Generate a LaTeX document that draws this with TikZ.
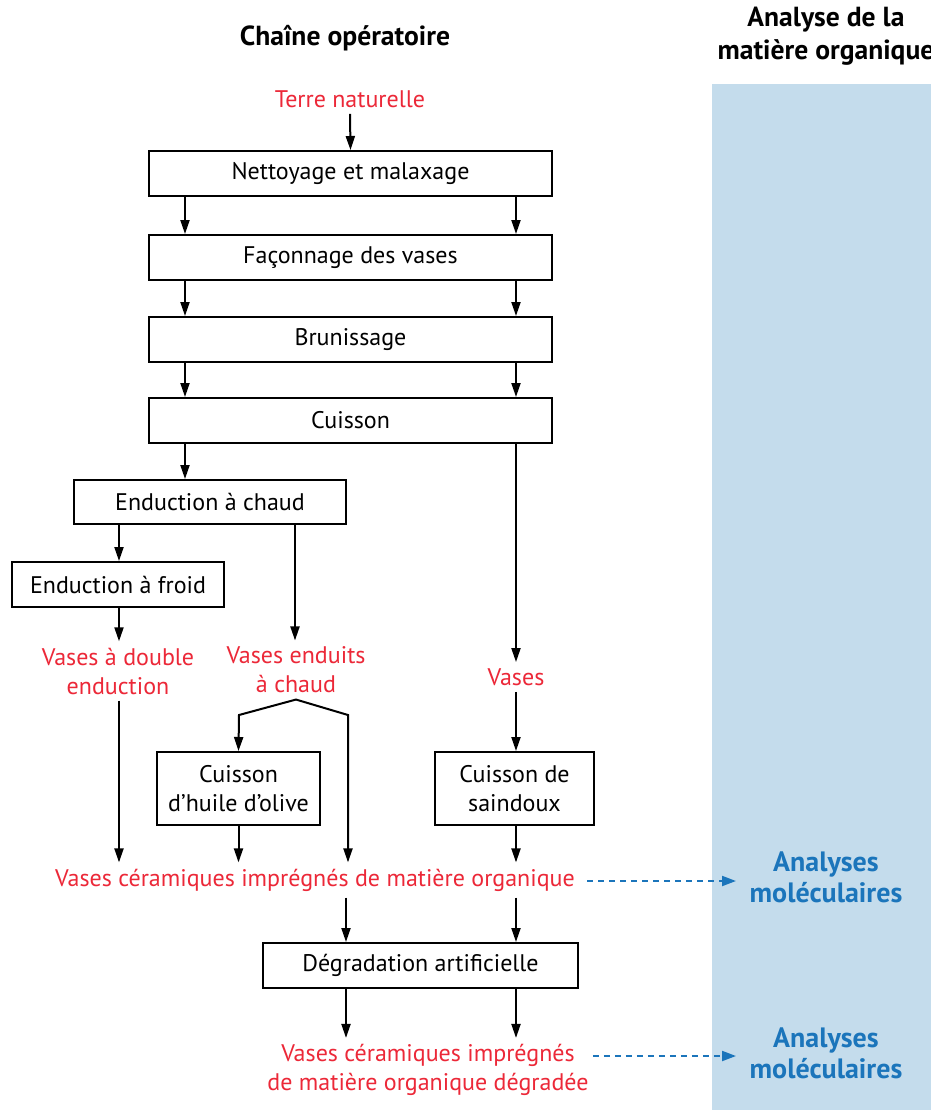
\documentclass[tikz,border=0pt]{standalone}
\usepackage{fontspec}
\setmainfont{PT Sans}
\usetikzlibrary{arrows.meta}
\definecolor{redt}{RGB}{236,40,56}
\definecolor{bluet}{RGB}{27,117,187}
\definecolor{panel}{RGB}{196,220,236}
\tikzset{
 box/.style={draw, line width=1pt, inner sep=0pt, font=\fontsize{12}{14.5}\selectfont, align=center},
 rtxt/.style={text=redt, inner sep=3pt, font=\fontsize{12}{14.5}\selectfont, align=center},
 btxt/.style={text=bluet, inner sep=3pt, font=\bfseries\fontsize{14}{15.5}\selectfont, align=center},
 htxt/.style={inner sep=0pt, font=\bfseries\fontsize{13.8}{16.2}\selectfont, align=center},
 arr/.style={line width=1pt, -{Triangle[length=7pt,width=4.5pt]}},
 darr/.style={draw=bluet, line width=1pt, dash pattern=on 3pt off 2.5pt, -{Triangle[length=7pt,width=5pt]}}
}
\begin{document}
\begin{tikzpicture}[x=0.5pt,y=-0.5pt]
\useasboundingbox (0,0) rectangle (931,1110);
\fill[white] (0,0) rectangle (931,1110);
\fill[panel] (712,84) rectangle (931,1110);

% headers
\node[htxt] (h1) at (345,38) {Chaîne opératoire};
\node[htxt] (h2) at (826,36) {Analyse de la\\matière organique};

% x positions
\coordinate (xL) at (185,0);
\coordinate (xR) at (516,0);
\coordinate (x119) at (119,0);
\coordinate (x295) at (295,0);
\coordinate (x346) at (346,0);
\coordinate (xtip) at (736,0);
\coordinate (kL) at (239,715);
\coordinate (kR) at (348,715);

% boxes
\node[box, minimum width=201.5pt, minimum height=22.5pt] (nett) at (350.5,173.5) {Nettoyage et malaxage};
\node[box, minimum width=201.5pt, minimum height=22.5pt] (fac) at (350.5,257.5) {Façonnage des vases};
\node[box, minimum width=201.5pt, minimum height=22.5pt] (brun) at (350.5,339.5) {Brunissage};
\node[box, minimum width=201.5pt, minimum height=22.5pt] (cuis) at (350.5,420.5) {Cuisson};
\node[box, minimum width=136pt, minimum height=22pt] (echaud) at (210,502) {Enduction à chaud};
\node[box, minimum width=106pt, minimum height=22.5pt] (efroid) at (118,584.5) {Enduction à froid};
\node[box, minimum width=81.5pt, minimum height=36.5pt] (huile) at (238.5,788.5) {Cuisson\\d’huile d’olive};
\node[box, minimum width=79.5pt, minimum height=36.5pt] (saind) at (514.5,788.5) {Cuisson de\\saindoux};
\node[box, minimum width=157.5pt, minimum height=22.5pt] (degr) at (420.5,965.5) {Dégradation artificielle};

% red texts
\node[rtxt] (terre) at (350,99) {Terre naturelle};
\node[rtxt] (vde) at (118,671) {Vases à double\\enduction};
\node[rtxt] (vench) at (296,670) {Vases enduits\\à chaud};
\node[rtxt] (vases) at (516,677) {Vases};
\node[rtxt] (vcer) at (315,880) {Vases céramiques imprégnés de matière organique};
\node[rtxt] (vdeg) at (428,1070) {Vases céramiques imprégnés\\de matière organique dégradée};

% blue texts
\node[btxt] (an1) at (826,877) {Analyses\\moléculaires};
\node[btxt] (an2) at (826,1053) {Analyses\\moléculaires};

% arrows
\draw[arr] (terre.south) -- (nett.north);
\draw[arr] (nett.south -| xL) -- (fac.north -| xL);
\draw[arr] (nett.south -| xR) -- (fac.north -| xR);
\draw[arr] (fac.south -| xL) -- (brun.north -| xL);
\draw[arr] (fac.south -| xR) -- (brun.north -| xR);
\draw[arr] (brun.south -| xL) -- (cuis.north -| xL);
\draw[arr] (brun.south -| xR) -- (cuis.north -| xR);
\draw[arr] (cuis.south -| xL) -- (echaud.north -| xL);
\draw[arr] (cuis.south -| xR) -- (vases.north -| xR);
\draw[arr] (echaud.south -| x119) -- (efroid.north -| x119);
\draw[arr] (echaud.south -| x295) -- (vench.north -| x295);
\draw[arr] (efroid.south -| x119) -- (vde.north -| x119);
\draw[arr] (vde.south -| x119) -- (vcer.north -| x119);
\draw[arr] (vench.south) -- (kL) -- (huile.north);
\draw[arr] (vench.south) -- (kR) -- (vcer.north -| kR);
\draw[arr] (vases.south -| xR) -- (saind.north -| xR);
\draw[arr] (huile.south) -- (vcer.north -| huile.south);
\draw[arr] (saind.south -| xR) -- (vcer.north -| xR);
\draw[arr] (vcer.south -| x346) -- (degr.north -| x346);
\draw[arr] (vcer.south -| xR) -- (degr.north -| xR);
\draw[arr] (degr.south -| x346) -- (vdeg.north -| x346);
\draw[arr] (degr.south -| xR) -- (vdeg.north -| xR);

% dashed arrows
\coordinate (d1s) at ([xshift=3pt,yshift=-0.5pt]vcer.east);
\draw[darr] (d1s) -- (d1s -| xtip);
\coordinate (d2s) at ([xshift=-1pt,yshift=7pt]vdeg.east);
\draw[darr] (d2s) -- (d2s -| xtip);
\end{tikzpicture}
\end{document}
